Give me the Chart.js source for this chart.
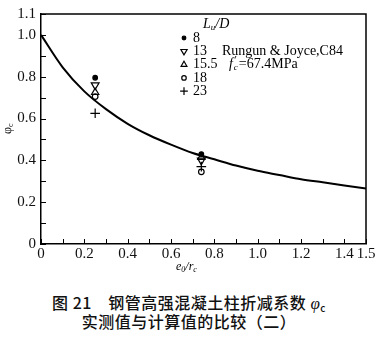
<!DOCTYPE html>
<html>
<head>
<meta charset="utf-8">
<script src="https://cdn.jsdelivr.net/npm/chart.js@4.4.1/dist/chart.umd.min.js"></script>
<style>
  html, body { margin: 0; padding: 0; background: #fff; }
  #wrap { position: relative; width: 378px; height: 280px; }
  .cap {
    position: absolute; left: 0; width: 378px; text-align: center;
    font-family: "Noto Sans CJK SC", sans-serif; font-size: 16px; font-weight: 500; color: #111;
    line-height: 19px; white-space: pre; letter-spacing: 0.5px;
  }
  .cap sub { font-size: 10px; vertical-align: -3px; line-height: 0; }
</style>
</head>
<body>
<div id="wrap"><canvas id="c"></canvas></div>
<div class="cap" style="top:293px;">图 21    钢管高强混凝土柱折减系数 <i style="font-family:'Liberation Serif';font-size:17px;">φ</i><sub>c</sub></div>
<div class="cap" style="top:312px;">实测值与计算值的比较（二）</div>

<script>
// computed reduction curve, read at 0.1 steps of e0/rc
const curveX = [0, 0.1, 0.2, 0.3, 0.4, 0.5, 0.6, 0.7, 0.8, 0.9, 1.0, 1.1, 1.2, 1.3, 1.4, 1.5];
const curveY = [1.0, 0.845, 0.73, 0.645, 0.575, 0.52, 0.475, 0.435, 0.405, 0.375, 0.35, 0.33, 0.31, 0.295, 0.28, 0.265];

// test results, Rungun & Joyce, grouped by Lu/D
const eccentricity = [0.25, 0.74];
const slenderness = ["8", "13", "15.5", "18", "23"];
const phi8 = [0.795, 0.43];
const phi13 = [0.76, 0.40];
const phi155 = [0.725, 0.415];
const phi18 = [0.705, 0.345];
const phi23 = [0.625, 0.37];

const xTickValues = [0, 0.1, 0.2, 0.3, 0.4, 0.5, 0.6, 0.7, 0.8, 0.9, 1.0, 1.1, 1.2, 1.3, 1.4, 1.5];
const xTickLabels = ["0", "", "0.2", "", "0.4", "", "0.6", "", "0.8", "", "1.0", "", "1.2", "", "1.4", "1.5"];
const yTickValues = [0, 0.1, 0.2, 0.3, 0.4, 0.5, 0.6, 0.7, 0.8, 0.9, 1.0, 1.1];
const yTickLabels = ["0", "", "0.2", "", "0.4", "", "0.6", "", "0.8", "", "1.0", "1.1"];

const serif = "'Liberation Serif', 'DejaVu Serif', serif";

const markerStyles = [
  { pointStyle: "circle", radius: 2.3, rotation: 0, fill: "#000" },
  { pointStyle: "triangle", radius: 4.5, rotation: 180, fill: "rgba(0,0,0,0)" },
  { pointStyle: "triangle", radius: 4.2, rotation: 0, fill: "rgba(0,0,0,0)" },
  { pointStyle: "circle", radius: 2.8, rotation: 0, fill: "rgba(0,0,0,0)" },
  { pointStyle: "cross", radius: 4.8, rotation: 0, fill: "rgba(0,0,0,0)" },
];

const groups = [phi8, phi13, phi155, phi18, phi23];

const pts = (xs, ys) => xs.map((x, i) => ({ x: x, y: ys[i] }));

const datasets = [
  {
    data: pts(curveX, curveY),
    showLine: true,
    borderColor: "#000",
    borderWidth: 2,
    pointRadius: 0,
    cubicInterpolationMode: "monotone",
  },
];
groups.forEach((g, i) => {
  const m = markerStyles[i];
  datasets.push({
    data: pts(eccentricity, g),
    showLine: false,
    pointStyle: m.pointStyle,
    pointRadius: m.radius,
    pointRotation: m.rotation,
    pointBackgroundColor: m.fill,
    pointBorderColor: "#000",
    pointBorderWidth: 1.2,
  });
});

// text with lowered/raised parts, drawn piece by piece
function drawRich(ctx, parts, x, y) {
  let cx = x;
  parts.forEach((p) => {
    ctx.font = p.font;
    ctx.fillText(p.t, cx, y + (p.dy || 0));
    cx += ctx.measureText(p.t).width + (p.gap || 0);
  });
}

const decorations = {
  id: "decorations",
  afterDraw(chart) {
    const { ctx, chartArea: a, scales } = chart;
    ctx.save();
    ctx.strokeStyle = "#000";
    ctx.fillStyle = "#000";

    // frame top and right
    ctx.lineWidth = 1.5;
    ctx.beginPath();
    ctx.moveTo(a.left, a.top);
    ctx.lineTo(a.right, a.top);
    ctx.lineTo(a.right, a.bottom);
    ctx.stroke();

    // inward tick marks
    ctx.lineWidth = 1;
    xTickValues.forEach((v) => {
      const px = Math.round(scales.x.getPixelForValue(v)) + 0.5;
      ctx.beginPath();
      ctx.moveTo(px, a.bottom);
      ctx.lineTo(px, a.bottom - 5);
      ctx.stroke();
    });
    yTickValues.forEach((v) => {
      const py = Math.round(scales.y.getPixelForValue(v)) + 0.5;
      ctx.beginPath();
      ctx.moveTo(a.left, py);
      ctx.lineTo(a.left + 5, py);
      ctx.stroke();
    });

    // legend
    ctx.textBaseline = "middle";
    ctx.textAlign = "left";
    drawRich(ctx, [
      { t: "L", font: "italic 14px " + serif },
      { t: "u", font: "italic 9px " + serif, dy: 4 },
      { t: "/D", font: "italic 14px " + serif },
    ], 203, 24);
    slenderness.forEach((s, i) => {
      const y = 38 + 13.3 * i;
      const m = markerStyles[i];
      ctx.fillStyle = m.fill;
      ctx.lineWidth = 1.2;
      Chart.helpers.drawPoint(ctx, {
        pointStyle: m.pointStyle,
        radius: m.radius * 0.8,
        rotation: m.rotation,
        borderWidth: 1.2,
      }, 184, y);
      ctx.fillStyle = "#000";
      ctx.font = "14px " + serif;
      ctx.fillText(s, 193, y);
    });
    ctx.font = "14px " + serif;
    ctx.fillText("Rungun & Joyce,C84", 222, 51);
    drawRich(ctx, [
      { t: "f", font: "italic 14px " + serif, gap: 1.5 },
      { t: "\u2032", font: "11px " + serif, dy: -4, gap: -3 },
      { t: "c", font: "italic 9px " + serif, dy: 4, gap: 1 },
      { t: "=67.4MPa", font: "14px " + serif },
    ], 229, 64);

    // axis titles
    drawRich(ctx, [
      { t: "e", font: "italic 12px " + serif },
      { t: "0", font: "italic 8px " + serif, dy: 3 },
      { t: "/r", font: "italic 12px " + serif },
      { t: "c", font: "italic 8px " + serif, dy: 3 },
    ], 176, 267);
    ctx.translate(8, 134);
    ctx.rotate(-Math.PI / 2);
    drawRich(ctx, [
      { t: "\u03c6", font: "12px " + serif },
      { t: "c", font: "8px " + serif, dy: 3 },
    ], 0, 0);
    ctx.restore();
  },
};

new Chart(document.getElementById("c"), {
  type: "scatter",
  data: { datasets: datasets },
  plugins: [decorations],
  options: {
    responsive: true,
    maintainAspectRatio: false,
    animation: false,
    layout: { padding: { left: 0, top: 10, right: 12, bottom: 0 } },
    plugins: { legend: { display: false }, tooltip: { enabled: false } },
    scales: {
      x: {
        type: "linear",
        min: 0,
        max: 1.5,
        afterBuildTicks: (s) => { s.ticks = xTickValues.map((v) => ({ value: v })); },
        afterFit: (s) => { s.height = 36; },
        grid: { display: false, drawTicks: false },
        border: { display: true, color: "#000", width: 1.5 },
        ticks: {
          autoSkip: false,
          maxRotation: 0,
          padding: 1,
          color: "#111",
          font: { family: serif, size: 15 },
          callback: (v, i) => xTickLabels[i],
        },
      },
      y: {
        type: "linear",
        min: 0,
        max: 1.1,
        afterBuildTicks: (s) => { s.ticks = yTickValues.map((v) => ({ value: v })); },
        afterFit: (s) => { s.width = 41; },
        grid: { display: false, drawTicks: false },
        border: { display: true, color: "#000", width: 1.5 },
        ticks: {
          autoSkip: false,
          padding: 5,
          color: "#111",
          font: { family: serif, size: 15 },
          callback: (v, i) => yTickLabels[i],
        },
      },
    },
  },
});
</script>
</body>
</html>
